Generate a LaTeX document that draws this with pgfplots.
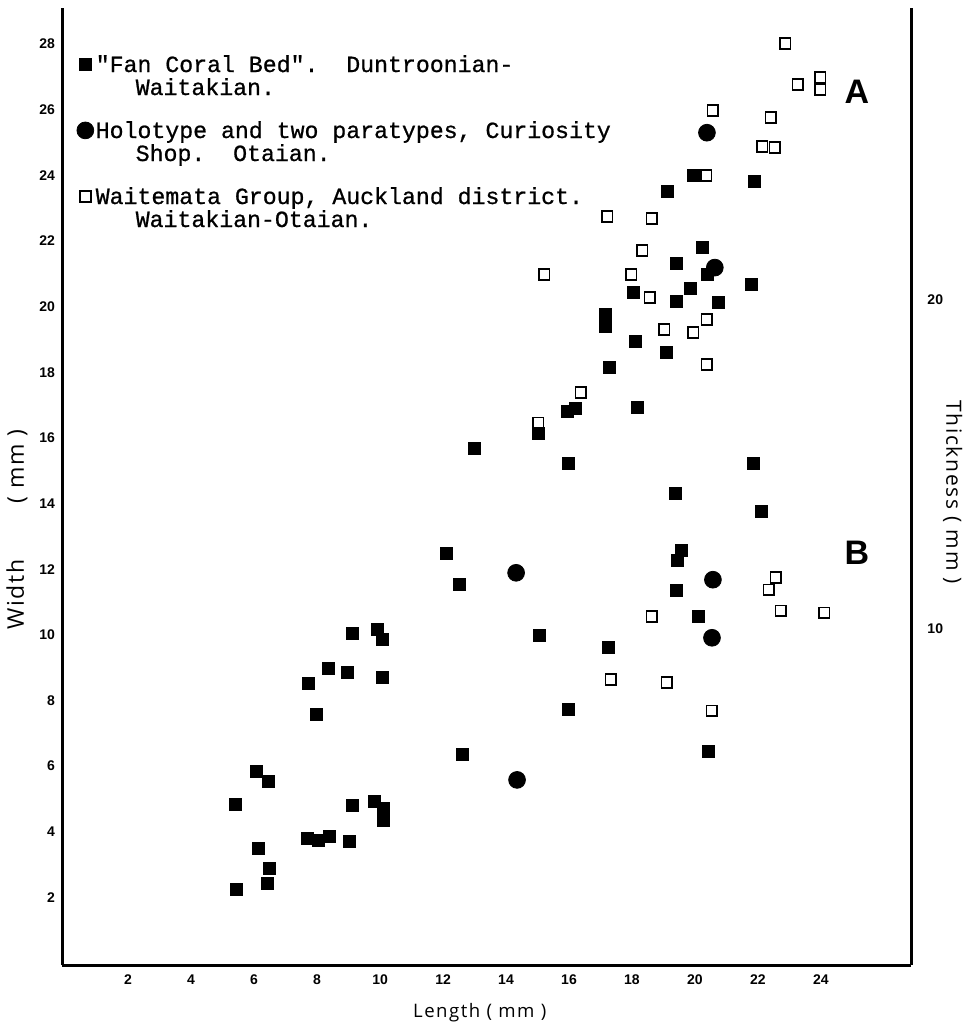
\documentclass[border=0pt]{standalone}
\usepackage{fontspec}
\setmainfont{Liberation Sans}
\setsansfont{Liberation Sans}
\newfontfamily\legfont[FakeBold=0.8]{Liberation Mono}
\newfontfamily\labfont[LetterSpace=8]{Open Sans}
\usepackage{pgfplots}
\pgfplotsset{compat=1.18}

% struts for legend rows: normal row and first row of an entry
\newcommand\rowA{\rule[-3pt]{0pt}{13pt}}
\newcommand\rowB{\rule[-3pt]{0pt}{23pt}}

\begin{document}
\begin{tikzpicture}
\begin{axis}[
    scale only axis,
    width=424.5pt, height=478.5pt,
    xmin=-0.1, xmax=26.86, ymin=-0.06, ymax=29.1,
    axis x line*=bottom, axis y line*=left,
    axis line style={line width=1.5pt, -},
    xtick={2,4,...,24}, ytick={2,4,...,28},
    major tick length=0pt,
    /pgf/number format/assume math mode=true,
    tick label style={font=\sffamily\bfseries\fontsize{7}{8}\selectfont},
    xticklabel style={yshift=-1.5pt},
    xlabel={Length ( mm )}, ylabel={Width\hspace{28pt}( mm )},
    every axis x label/.style={at={(axis description cs:0.492,-0.05)}, anchor=center,
        font=\labfont\fontsize{9.3}{12}\selectfont},
    every axis y label/.style={at={(axis description cs:-0.053,0.455)}, anchor=center,
        rotate=90, font=\labfont\fontsize{11.5}{12}\selectfont},
    clip=false,
    legend cell align=left,
    legend style={at={(axis description cs:0.0176,0.954)}, anchor=north west,
        draw=none, fill=none, inner sep=0pt, outer sep=0pt,
        row sep=0pt, column sep=1pt,
        cells={anchor=base west},
        font=\legfont\fontsize{11.6}{11.5}\selectfont,
        nodes={inner sep=0pt, outer sep=0pt}},
    legend image code/.code={\draw[#1] plot coordinates {(3pt,3.8pt)};},
]
\coordinate (o) at (rel axis cs:0,0);

% "Fan Coral Bed"
\addplot[only marks, mark=square*, mark size=3pt, black] coordinates {
(19.11,23.51) (19.94,23.99) (21.90,23.81) (20.25,21.80) (19.40,21.31)
(20.41,20.98) (18.06,20.43) (19.84,20.55) (19.40,20.15) (20.73,20.12)
(21.78,20.67) (17.17,19.76) (17.17,19.39) (18.10,18.93) (19.08,18.60)
(17.27,18.14) (18.16,16.92) (15.94,16.80) (16.19,16.89) (15.02,16.13)
(12.98,15.67) (15.97,15.21) (21.84,15.21) (19.37,14.30) (22.10,13.75)
(12.10,12.47) (19.56,12.56) (19.43,12.26) (12.51,11.55) (19.40,11.34)
(20.10,10.55) (15.05,9.97) (17.24,9.63) (15.97,7.74) (12.60,6.37)
(20.44,6.46) (9.90,10.18) (10.06,9.85) (9.11,10.03) (8.35,8.99)
(8.95,8.87) (10.06,8.69) (7.71,8.51) (7.97,7.59) (6.06,5.85)
(6.44,5.52) (5.40,4.82) (9.11,4.79) (9.81,4.94) (10.10,4.70)
(10.10,4.36) (7.68,3.81) (8.03,3.75) (8.38,3.87) (9.02,3.72)
(6.13,3.48) (6.48,2.87) (6.41,2.44) (5.43,2.23)
};
\addlegendentry{\rowA"Fan Coral Bed".\ \ Duntroonian-}
\addlegendimage{empty legend}
\addlegendentry{\rowA\hspace*{20pt}Waitakian.}

% Holotype and paratypes
\addplot[only marks, mark=*, mark size=4.2pt, black] coordinates {
(20.38,25.30) (20.63,21.19) (14.32,11.89) (20.57,11.68) (20.54,9.91) (14.35,5.58)
};
\addlegendentry{\rowB Holotype and two paratypes, Curiosity}
\addlegendimage{empty legend}
\addlegendentry{\rowA\hspace*{20pt}Shop.\ \ Otaian.}

% Waitemata Group
\addplot[only marks, mark=square, mark size=2.7pt, line width=0.9pt, black] coordinates {
(22.86,28.02) (23.27,26.77) (23.97,26.98) (23.97,26.62) (20.57,25.98)
(22.41,25.76) (22.13,24.88) (22.54,24.85) (20.35,23.99) (17.21,22.74)
(18.63,22.68) (18.32,21.71) (17.97,20.98) (15.21,20.98) (18.57,20.27)
(19.02,19.30) (19.94,19.21) (20.38,19.60) (20.38,18.23) (16.38,17.38)
(15.02,16.46) (22.57,11.74) (22.35,11.37) (22.73,10.73) (24.10,10.67)
(18.63,10.55) (17.33,8.63) (19.11,8.54) (20.54,7.68)
};
\addlegendentry{\rowB Waitemata Group, Auckland district.}
\addlegendimage{empty legend}
\addlegendentry{\rowA\hspace*{20pt}Waitakian-Otaian.}

\node[font=\sffamily\bfseries\fontsize{17}{18}\selectfont] at (axis cs:25.14,26.55) {A};
\node[font=\sffamily\bfseries\fontsize{17}{18}\selectfont] at (axis cs:25.14,12.5) {B};
\end{axis}

% right-hand thickness scale
\begin{axis}[
    scale only axis,
    width=424.5pt, height=478.5pt,
    xmin=-0.1, xmax=26.86, ymin=-0.2, ymax=28.86,
    axis x line=none, axis y line*=right,
    axis line style={line width=1.5pt, -},
    ytick={10,20}, major tick length=0pt,
    /pgf/number format/assume math mode=true,
    tick label style={font=\sffamily\bfseries\fontsize{7}{8}\selectfont, xshift=4.7pt},
    ylabel={Thickness ( mm )},
    every axis y label/.style={at={(axis description cs:1.049,0.494)}, anchor=center,
        rotate=-90, font=\labfont\fontsize{10.5}{12}\selectfont},
]
\end{axis}

\pgfresetboundingbox
\path (o) ++(-31pt,-33pt) rectangle ++(482pt,515.5pt);
\end{tikzpicture}
\end{document}
